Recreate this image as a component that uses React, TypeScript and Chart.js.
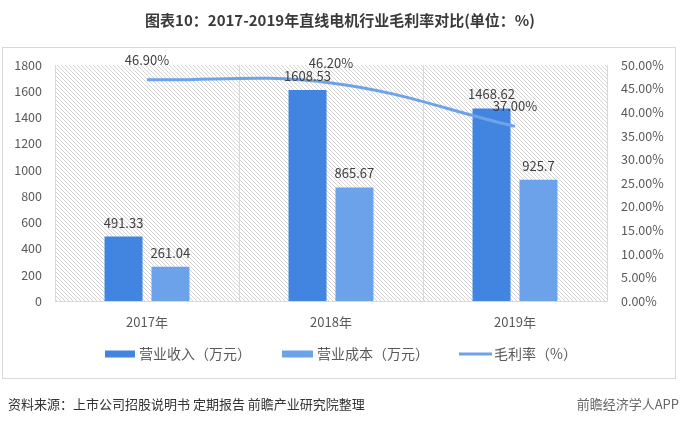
import { useEffect, useRef } from "react";
import { Chart, registerables } from "chart.js";

Chart.register(...registerables);

const title = "图表10：2017-2019年直线电机行业毛利率对比(单位：%)";
const source = "资料来源：上市公司招股说明书 定期报告 前瞻产业研究院整理";
const brand = "前瞻经济学人APP";
const categories = ["2017年", "2018年", "2019年"];
const revenue = [491.33, 1608.53, 1468.62];
const cost = [261.04, 865.67, 925.7];
const margin = [46.9, 46.2, 37.0];
const seriesNames = ["营业收入（万元）", "营业成本（万元）", "毛利率（%）"];
const leftMax = 1800;
const leftStep = 200;
const rightMax = 50;
const rightStep = 5;

const C_REV = "#4285E1";
const C_COST = "#6CA2EA";
const C_LINE = "#6FA3E8";
const FONT = '"Noto Sans CJK SC", "Noto Sans", sans-serif';

function makeHatch(): CanvasPattern | string {
  const c = document.createElement("canvas");
  c.width = 4;
  c.height = 4;
  const g = c.getContext("2d");
  if (!g) return "#fff";
  g.fillStyle = "#ffffff";
  g.fillRect(0, 0, 4, 4);
  g.strokeStyle = "#d4d4d4";
  g.lineWidth = 1;
  g.beginPath();
  g.moveTo(-1, -1);
  g.lineTo(5, 5);
  g.stroke();
  const p = g.createPattern(c, "repeat");
  return p || "#fff";
}

export default function App() {
  const ref = useRef<HTMLCanvasElement | null>(null);

  useEffect(() => {
    const canvas = ref.current;
    if (!canvas) return;
    const hatch = makeHatch();

    const decor = {
      id: "decor",
      beforeDraw(chart: any) {
        const ctx = chart.ctx;
        const a = chart.chartArea;
        ctx.save();
        ctx.fillStyle = "#fff";
        ctx.fillRect(0, 0, chart.width, chart.height);
        ctx.strokeStyle = "#d9d9d9";
        ctx.lineWidth = 1;
        ctx.strokeRect(2.5, 47.5, 673, 331);
        ctx.fillStyle = hatch as any;
        ctx.fillRect(a.left, a.top, a.right - a.left, a.bottom - a.top);
        ctx.fillStyle = "#3a3a3a";
        ctx.font = `bold 15px ${FONT}`;
        ctx.textAlign = "center";
        ctx.textBaseline = "middle";
        ctx.fillText(title, 340, 20);
        ctx.font = `13px ${FONT}`;
        ctx.fillStyle = "#333";
        ctx.textAlign = "left";
        ctx.fillText(source, 8, 404);
        ctx.fillStyle = "#666";
        ctx.textAlign = "right";
        ctx.fillText(brand, 679, 404);
        ctx.restore();
      },
      afterDraw(chart: any) {
        const ctx = chart.ctx;
        ctx.save();
        const y = 354;
        ctx.font = `14px ${FONT}`;
        ctx.textBaseline = "middle";
        ctx.textAlign = "left";
        ctx.fillStyle = C_REV;
        ctx.fillRect(105, y - 3.5, 30, 7);
        ctx.fillStyle = "#595959";
        ctx.fillText(seriesNames[0], 139, y);
        ctx.fillStyle = C_COST;
        ctx.fillRect(282, y - 3.5, 31, 7);
        ctx.fillStyle = "#595959";
        ctx.fillText(seriesNames[1], 317, y);
        ctx.strokeStyle = C_LINE;
        ctx.lineWidth = 3;
        ctx.beginPath();
        ctx.moveTo(459, y);
        ctx.lineTo(492, y);
        ctx.stroke();
        ctx.fillStyle = "#595959";
        ctx.fillText(seriesNames[2], 494, y);
        ctx.restore();
      },
      afterDatasetsDraw(chart: any) {
        const ctx = chart.ctx;
        ctx.save();
        ctx.font = `13px ${FONT}`;
        ctx.fillStyle = "#404040";
        ctx.textAlign = "center";
        ctx.textBaseline = "middle";
        [0, 1].forEach((di) => {
          const meta = chart.getDatasetMeta(di);
          const vals = chart.data.datasets[di].data as number[];
          meta.data.forEach((el: any, i: number) => {
            ctx.fillText(String(vals[i]), el.x, el.y - 14);
          });
        });
        const lm = chart.getDatasetMeta(2);
        const lv = chart.data.datasets[2].data as number[];
        lm.data.forEach((el: any, i: number) => {
          ctx.fillText(lv[i].toFixed(2) + "%", el.x, el.y - 20);
        });
        ctx.restore();
      },
    };

    const chart = new Chart(canvas, {
      type: "bar",
      data: {
        labels: categories,
        datasets: [
          {
            type: "bar",
            label: seriesNames[0],
            data: revenue,
            backgroundColor: C_REV,
            yAxisID: "y",
            order: 1,
            categoryPercentage: 0.51,
            barPercentage: 0.81,
          },
          {
            type: "bar",
            label: seriesNames[1],
            data: cost,
            backgroundColor: C_COST,
            yAxisID: "y",
            order: 1,
            categoryPercentage: 0.51,
            barPercentage: 0.81,
          },
          {
            type: "line",
            label: seriesNames[2],
            data: margin,
            borderColor: C_LINE,
            borderWidth: 3,
            pointRadius: 0,
            tension: 0.4,
            fill: false,
            yAxisID: "y1",
            order: 0,
          } as any,
        ],
      },
      options: {
        responsive: false,
        animation: false,
        layout: { padding: { left: 2, right: 5, top: 65, bottom: 83 } },
        plugins: {
          legend: { display: false },
          title: { display: false },
          tooltip: { enabled: false },
        },
        scales: {
          x: {
            offset: true,
            grid: {
              offset: true,
              color: "#d9d9d9",
              drawTicks: false,
            },
            border: { color: "#d9d9d9" },
            ticks: {
              color: "#595959",
              font: { family: FONT, size: 13 },
              padding: 13,
            },
            afterFit(s: any) {
              s.height = 40;
            },
          },
          y: {
            position: "left",
            min: 0,
            max: leftMax,
            ticks: {
              stepSize: leftStep,
              color: "#595959",
              font: { family: FONT, size: 12.5 },
              padding: 13,
              callback: (v: any) => String(v),
            },
            grid: { display: false, drawTicks: false },
            border: { display: false },
            afterFit(s: any) {
              s.width = 53;
            },
          },
          y1: {
            position: "right",
            min: 0,
            max: rightMax,
            ticks: {
              stepSize: rightStep,
              color: "#595959",
              font: { family: FONT, size: 12.5 },
              padding: 14,
              callback: (v: any) => Number(v).toFixed(2) + "%",
            },
            grid: { display: false, drawTicks: false },
            border: { display: false },
            afterFit(s: any) {
              s.width = 68;
            },
          },
        },
      },
      plugins: [decor],
    });

    return () => chart.destroy();
  }, []);

  return (
    <div style={{ position: "absolute", left: 0, top: 0, width: 680, height: 424, background: "#fff" }}>
      <canvas ref={ref} width={680} height={424} style={{ width: 680, height: 424, display: "block" }} />
    </div>
  );
}
